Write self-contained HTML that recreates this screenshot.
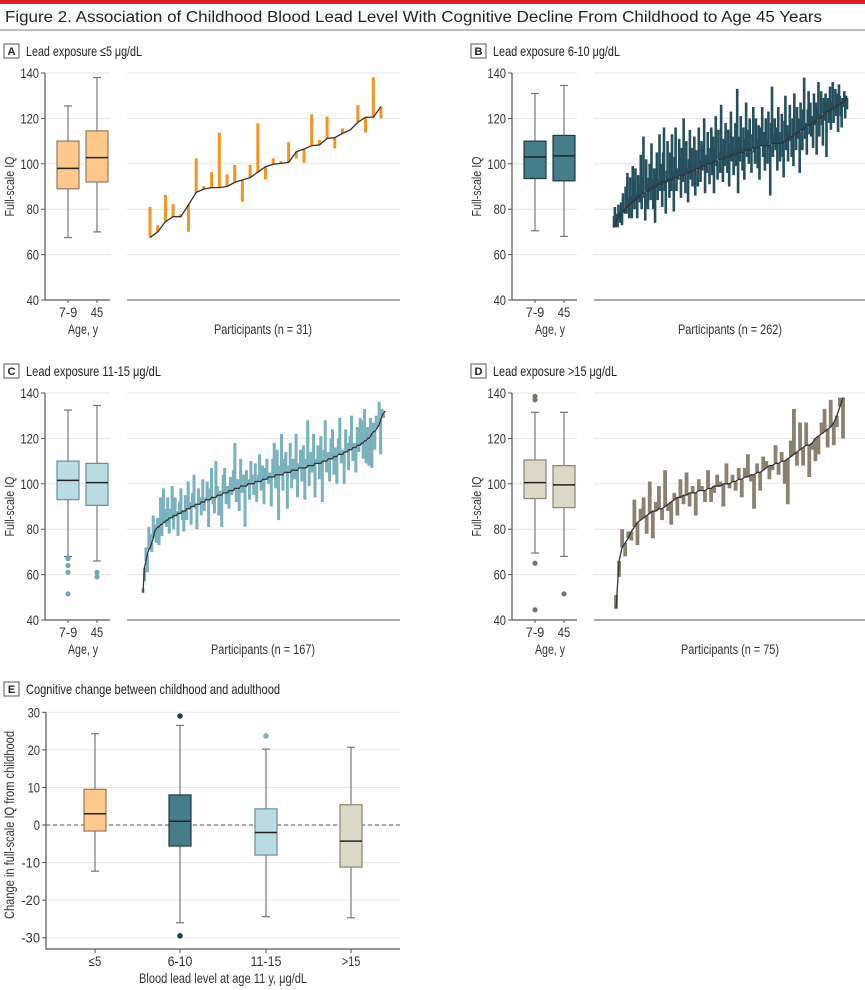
<!DOCTYPE html>
<html><head><meta charset="utf-8"><style>
html,body{margin:0;padding:0;background:#fff}
svg{display:block;font-family:"Liberation Sans Narrow","Liberation Sans",sans-serif}
</style></head><body>
<svg id="fig" width="865" height="990" viewBox="0 0 865 990" xmlns="http://www.w3.org/2000/svg">
<rect x="0" y="0" width="865" height="4" fill="#e31b23"/>
<text x="5" y="22" font-size="15.5" fill="#222" textLength="817" lengthAdjust="spacingAndGlyphs">Figure 2. Association of Childhood Blood Lead Level With Cognitive Decline From Childhood to Age 45 Years</text>
<line x1="0" y1="30" x2="865" y2="30" stroke="#999" stroke-width="1.2"/>
<g id="root"></g>
</svg>
<script>
// ---------- Panel A data ----------
const baseA = [67.5,70,74.5,76.7,76.7,81.9,87.4,88.9,89.5,89.5,90,91.8,92.9,93.9,96.3,98.7,99.8,100.2,100.6,105.3,106.5,108,108.3,111.2,111.5,113.4,114.9,118.3,120.5,120.5,125.2];
const adultA = [81,73,86.3,82.2,77.9,70.1,102.4,90.2,96.3,113.7,95.4,99.5,83.3,99.5,117.8,93.2,102.4,101.2,109.5,102.4,100.5,121.8,110.5,120.8,106.8,115.6,115.2,125.9,113.7,138.1,120];
// ---------- Panel B data ----------
const baseB = [72,73,74,75,76,76,77,77,78,78,79,79,80,80,81,81,81,82,82,83,
83,83,84,84,84,85,85,85,86,86,86,86,87,87,87,87,88,88,88,88,
89,89,89,89,90,90,90,90,90,91,91,91,91,91,92,92,92,92,92,92,
93,93,93,93,93,93,94,94,94,94,94,94,94,95,95,95,95,95,95,95,
96,96,96,96,96,96,97,97,97,97,97,97,98,98,98,98,98,98,99,99,
99,99,99,99,99,100,100,100,100,100,100,101,101,101,101,101,101,102,102,102,
102,102,102,102,103,103,103,103,103,103,103,104,104,104,104,104,104,104,105,105,
105,105,105,105,105,105,105,106,106,106,106,106,106,106,106,107,107,107,107,107,
107,107,107,107,108,108,108,108,108,108,108,108,108,108,108,108,109,109,109,109,
109,109,109,109,109,109,109,109,109,109,110,110,110,110,111,111,111,112,112,112,
112,113,113,113,113,114,114,114,114,115,115,115,115,116,116,116,116,117,117,117,
117,118,118,118,118,119,119,119,120,120,120,120,121,121,121,122,122,122,123,123,
123,123,124,124,124,124,125,125,125,125,126,126,126,126,127,127,127,128,128,128,129,129];
const changeB = [5,8,-2,3,-4,6,2,-3,5,-5,8,1,-2,10,-3,15,4,-6,12,3,
-7,16,8,-4,14,2,-9,10,5,-3,18,-6,7,25,-2,-12,14,3,-8,6,
11,-5,20,4,-10,8,-16,6,15,-7,2,22,-3,9,-11,13,24,-4,-14,5,
17,1,-8,12,-5,20,3,-15,9,22,-6,4,-1,16,8,-10,12,-3,25,7,
-9,14,2,-13,6,19,-4,10,-7,3,15,-11,8,1,-8,18,4,-6,11,-2,
9,21,-12,5,-3,14,7,-9,2,16,-5,11,-14,6,20,-2,-8,13,3,-6,
24,4,-10,9,-4,15,1,-7,12,-13,6,19,-3,8,-9,3,14,-5,28,-18,
7,-4,16,2,-8,11,-12,5,21,-3,9,-6,14,1,-10,6,18,-2,-7,13,
4,-9,10,-14,8,2,17,-5,6,-11,12,3,-8,15,-1,-22,9,25,-6,4,
11,-3,7,-12,16,5,-8,2,13,-6,-16,9,20,-4,6,-10,3,14,-2,-9,
8,-14,18,1,-7,11,-3,6,-18,12,4,-9,9,22,-5,2,-12,7,15,-4,
10,-6,3,-11,13,-2,8,-15,5,16,-8,2,11,-4,-13,7,-3,9,-20,4,
6,-5,10,-9,3,12,-7,-2,8,-4,5,-12,9,4,-6,-11,2,-3,4,-8,1,-5];
// ---------- Panel C data ----------
const baseC = [52,63,66,69,71,72,74,76,79,80,
81,81,82,82,83,83,84,84,85,85,85,86,86,86,87,87,87,88,88,88,
89,89,89,90,90,90,91,91,91,91,92,92,92,93,93,93,93,94,94,94,
94,95,95,95,95,96,96,96,96,97,97,97,97,98,98,98,98,99,99,99,
99,99,100,100,100,100,100,101,101,101,101,101,102,102,102,102,103,103,103,103,
103,104,104,104,104,104,104,105,105,105,105,105,106,106,106,106,106,107,107,107,
107,107,107,108,108,108,108,108,109,109,109,109,109,110,110,110,110,111,111,111,
111,112,112,112,113,113,113,113,114,114,114,115,115,115,116,116,116,117,117,117,
118,118,119,119,120,120,121,122,123,123,124,125,126,128,130,131,132];
const changeC = [2,-6,6,-8,10,6,-4,10,3,-6,
4,-8,12,-5,15,6,-3,10,-7,4,14,-6,8,2,-10,5,11,-4,-9,7,
-5,12,3,-8,6,14,-2,-11,7,3,-6,10,-4,1,8,-12,5,13,-3,-7,
16,4,-9,2,-14,8,11,-5,3,-8,6,-2,9,20,-6,4,-10,12,-3,5,
-18,7,2,-7,10,4,-5,8,-9,3,12,-4,6,-11,5,9,-3,2,-13,8,
15,-6,11,-20,4,18,-7,6,9,-16,3,13,-8,5,-4,16,-12,2,8,-6,
10,-14,4,20,-9,6,-3,14,-15,2,8,-7,12,-18,5,18,-5,3,-10,9,
13,-8,4,-12,7,16,-4,2,-14,10,4,-9,6,15,-6,2,-11,8,-3,12,
10,-7,14,-10,5,-12,8,-15,4,-8,6,2,10,-15,3,-2,0];
// ---------- Panel D data ----------
const baseD = [45,66,72,74,76,79,81,83,84,85,86,87,88,88,89,89,90,91,92,93,94,94,95,95,96,96,96,97,97,97,98,98,99,99,99,100,100,100,101,101,102,102,103,103,104,104,105,105,106,107,108,108,109,109,110,110,111,112,113,114,115,116,117,117,118,120,121,122,123,124,125,127,130,134,138];
const changeD = [6,-7,8,-6,3,-4,12,-10,5,9,-8,14,-12,4,10,-5,16,-3,-10,3,-8,8,-4,10,-6,3,-10,5,2,-5,8,-6,-3,5,2,-10,9,-2,3,-4,5,-8,4,10,-3,-15,4,-8,6,3,-6,-2,8,-5,4,-10,-20,7,20,-6,12,-8,10,-14,-3,-10,-8,5,10,-8,12,-10,-5,4,-18];
// ---------- Box plot stats [lowWhisker, q1, median, q3, highWhisker] ----------
const boxA = [[67.5,89,98,110,125.5],[70,92,102.7,114.5,138]];
const boxB = [[70.5,93.5,103,110,131],[68,92.5,103.5,112.5,134.5]];
const boxC = [[68,93,101.5,110,132.5],[66,90.5,100.5,109,134.5]];
const boxD = [[69.5,93.5,100.5,110.5,131.5],[68,89.5,99.5,108,131.5]];
const outC = [[67,64,61,51.5],[61,59]];
const outD = [[138.5,137,65,44.5],[51.5]];
const ageLabels = ["7-9","45"];
const iqTicks = [40,60,80,100,120,140];
// ---------- Panel E ----------
const catE = ["≤5","6-10","11-15",">15"];
const boxE = [[-12.3,-1.6,3,9.5,24.3],[-26,-5.6,1,8,26.5],[-24.4,-8,-2,4.3,20.2],[-24.7,-11.2,-4.3,5.4,20.7]];
const outE = [[],[29,-29.5],[23.7],[]];
const eTicks = [-30,-20,-10,0,10,20,30];

const NS="http://www.w3.org/2000/svg";
const root=document.getElementById('root');
function mk(tag,attrs,parent){const e=document.createElementNS(NS,tag);for(const k in attrs)e.setAttribute(k,attrs[k]);(parent||root).appendChild(e);return e;}
function txt(s,attrs,parent){const e=mk('text',attrs,parent);e.textContent=s;return e;}
function tickW(s){return s.length*6.2;}

function panel(key,ox,oy,letter,title,titleLen,box,outs,base,adult,barColor,fill,stroke,outColor,barW,nLabel,nLen){
  const g=mk('g',{});
  
  
  const y=v=>oy+73+(140-v)*2.27;
  const lb=mk('rect',{x:ox+4,y:oy+44,width:15,height:14,fill:'none',stroke:'#555','stroke-width':1},g);
  
  
  const lt=txt(letter,{x:ox+11.5,y:oy+55,'font-size':11,'font-weight':'bold','text-anchor':'middle',fill:'#222'},g);
  
  
  const tt=txt(title,{x:ox+26,y:oy+56,'font-size':14,fill:'#222',textLength:titleLen,lengthAdjust:'spacingAndGlyphs'},g);
  
  
  iqTicks.forEach(t=>{
    if(t>40){
      const l1=mk('line',{x1:ox+45,x2:ox+110,y1:y(t),y2:y(t),stroke:'#e6e6e6','stroke-width':1},g);
      
      
      const l2=mk('line',{x1:ox+127,x2:ox+400,y1:y(t),y2:y(t),stroke:'#e6e6e6','stroke-width':1},g);
      
      
    }
    mk('line',{x1:ox+41,x2:ox+45,y1:y(t),y2:y(t),stroke:'#555'},g);
    const s=String(t);
    const tl=txt(s,{x:ox+39,y:y(t)+5,'font-size':13.5,'text-anchor':'end',fill:'#333',textLength:tickW(s),lengthAdjust:'spacingAndGlyphs'},g);
    
    
  });
  const ax=mk('path',{d:`M${ox+45} ${y(140)}V${y(40)}H${ox+110}`,fill:'none',stroke:'#555','stroke-width':1.2},g);
  
  
  const yt=txt('Full-scale IQ',{x:0,y:0,'font-size':13,'text-anchor':'middle',fill:'#333',textLength:60,lengthAdjust:'spacingAndGlyphs',transform:`translate(${ox+14},${y(90)}) rotate(-90)`},g);
  
  
  [ox+68,ox+97].forEach((cx,i)=>{
    const b=box[i];
    mk('line',{x1:cx,x2:cx,y1:y(b[0]),y2:y(b[4]),stroke:'#777','stroke-width':1.2},g);
    mk('line',{x1:cx-4,x2:cx+4,y1:y(b[0]),y2:y(b[0]),stroke:'#777','stroke-width':1.2},g);
    mk('line',{x1:cx-4,x2:cx+4,y1:y(b[4]),y2:y(b[4]),stroke:'#777','stroke-width':1.2},g);
    const r=mk('rect',{x:cx-11,y:y(b[3]),width:22,height:y(b[1])-y(b[3]),fill:fill,stroke:stroke,'stroke-width':1.2},g);
    
    
    mk('line',{x1:cx-11,x2:cx+11,y1:y(b[2]),y2:y(b[2]),stroke:'#222','stroke-width':1.5},g);
    (outs[i]||[]).forEach(o=>{
      const c=mk('circle',{cx:cx,cy:y(o),r:2.6,fill:outColor},g);
      
      
    });
    mk('line',{x1:cx,x2:cx,y1:y(40),y2:y(40)+3,stroke:'#555'},g);
    const al=txt(ageLabels[i],{x:cx,y:oy+317,'font-size':13.5,'text-anchor':'middle',fill:'#333',textLength:tickW(ageLabels[i]),lengthAdjust:'spacingAndGlyphs'},g);
    
    
  });
  const ag=txt('Age, y',{x:ox+83,y:oy+334,'font-size':13.5,'text-anchor':'middle',fill:'#333',textLength:30,lengthAdjust:'spacingAndGlyphs'},g);
  
  
  const pa=mk('line',{x1:ox+127,x2:ox+400,y1:y(40),y2:y(40),stroke:'#777','stroke-width':1.2},g);
  
  
  const n=Math.min(base.length,adult.length);
  const k=['A','B','C','D'].indexOf(key);
  const x0=ox+[150,147,143,149][k];
  const x1=ox+[381,380,385,376][k];
  const px=i=>x0+(n>1?(x1-x0)*i/(n-1):0);
  for(let i=0;i<n;i++){
    const a=y(base[i]),b=y(adult[i]);
    const r=mk('rect',{x:px(i)-barW/2,y:Math.min(a,b),width:barW,height:Math.max(1,Math.abs(a-b)),fill:barColor},g);
    
    
  }
  const pts=[];for(let i=0;i<n;i++)pts.push(px(i).toFixed(2)+','+y(base[i]).toFixed(2));
  const pl=mk('polyline',{points:pts.join(' '),fill:'none',stroke:'#333','stroke-width':1.3},g);
  
  
  const nl=txt(nLabel,{x:ox+263,y:oy+334,'font-size':13.5,'text-anchor':'middle',fill:'#333',textLength:nLen,lengthAdjust:'spacingAndGlyphs'},g);
  
  
}
const adB=baseB.map((v,i)=>v+changeB[i]);
const adC=baseC.map((v,i)=>v+changeC[i]);
const adD=baseD.map((v,i)=>v+changeD[i]);
panel('A',0,0,'A','Lead exposure ≤5 μg/dL',116,boxA,[[],[]],baseA,adultA,'#f7931e','#fdc98a','#8f7a62','#f7931e',3,'Participants (n = 31)',98);
panel('B',467,0,'B','Lead exposure 6-10 μg/dL',127,boxB,[[],[]],baseB,adB,'#254f5c','#467d8a','#1d3a44','#254f5c',2.6,'Participants (n = 262)',104);
panel('C',0,320,'C','Lead exposure 11-15 μg/dL',135,boxC,outC,baseC,adC,'#79b1be','#b9dbe2','#6a8f98','#6fa8b6',3,'Participants (n = 167)',104);
panel('D',467,320,'D','Lead exposure >15 μg/dL',124,boxD,outD,baseD,adD,'#8b8170','#dcd8c8','#8a8474','#7d7565',3.8,'Participants (n = 75)',98);

(function(){
  const g=mk('g',{});
  
  
  const y=v=>712.3+(30-v)*3.757;
  const catX=[95,180,266,351];
  const fills=['#fdc98a','#467d8a','#b9dbe2','#dcd8c8'];
  const strokes=['#8f7a62','#1d3a44','#6a8f98','#8a8474'];
  const outCols=['#f7931e','#1e4450','#7fb5c2','#7d7565'];
  const lb=mk('rect',{x:4,y:682,width:15,height:14,fill:'none',stroke:'#555'},g);
  
  
  const lt=txt('E',{x:11.5,y:693,'font-size':11,'font-weight':'bold','text-anchor':'middle',fill:'#222'},g);
  
  
  const tt=txt('Cognitive change between childhood and adulthood',{x:26,y:694,'font-size':14,fill:'#222',textLength:254,lengthAdjust:'spacingAndGlyphs'},g);
  
  
  eTicks.forEach(t=>{
    const gl=mk('line',{x1:46,x2:400,y1:y(t),y2:y(t),stroke:'#e6e6e6'},g);
    
    
    mk('line',{x1:42,x2:46,y1:y(t),y2:y(t),stroke:'#555'},g);
    const s=String(t);
    const tl=txt(s,{x:40,y:y(t)+5,'font-size':13.5,'text-anchor':'end',fill:'#333',textLength:tickW(s),lengthAdjust:'spacingAndGlyphs'},g);
    
    
  });
  const zl=mk('line',{x1:46,x2:400,y1:y(0),y2:y(0),stroke:'#555','stroke-width':1.1,'stroke-dasharray':'4,3'},g);
  
  
  const ax=mk('path',{d:`M46 ${y(30)}V949H400`,fill:'none',stroke:'#555','stroke-width':1.2},g);
  
  
  catE.forEach((c,i)=>{
    const cx=catX[i],b=boxE[i];
    mk('line',{x1:cx,x2:cx,y1:y(b[0]),y2:y(b[4]),stroke:'#777','stroke-width':1.2},g);
    mk('line',{x1:cx-4,x2:cx+4,y1:y(b[0]),y2:y(b[0]),stroke:'#777','stroke-width':1.2},g);
    mk('line',{x1:cx-4,x2:cx+4,y1:y(b[4]),y2:y(b[4]),stroke:'#777','stroke-width':1.2},g);
    const r=mk('rect',{x:cx-11,y:y(b[3]),width:22,height:y(b[1])-y(b[3]),fill:fills[i],stroke:strokes[i],'stroke-width':1.2},g);
    
    
    mk('line',{x1:cx-11,x2:cx+11,y1:y(b[2]),y2:y(b[2]),stroke:'#222','stroke-width':1.5},g);
    outE[i].forEach(o=>{
      const ci=mk('circle',{cx:cx,cy:y(o),r:2.8,fill:outCols[i]},g);
      
      
    });
    mk('line',{x1:cx,x2:cx,y1:949,y2:953,stroke:'#555'},g);
    const cl=txt(c,{x:cx,y:966,'font-size':13.5,'text-anchor':'middle',fill:'#333',textLength:tickW(c),lengthAdjust:'spacingAndGlyphs'},g);
    
    
  });
  const xt=txt('Blood lead level at age 11 y, μg/dL',{x:223,y:983,'font-size':13.5,'text-anchor':'middle',fill:'#333',textLength:168,lengthAdjust:'spacingAndGlyphs'},g);
  
  
  const yt=txt('Change in full-scale IQ from childhood',{x:0,y:0,'font-size':13.5,'text-anchor':'middle',fill:'#333',textLength:188,lengthAdjust:'spacingAndGlyphs',transform:'translate(14,825) rotate(-90)'},g);
  
  
})();
</script>
</body></html>
